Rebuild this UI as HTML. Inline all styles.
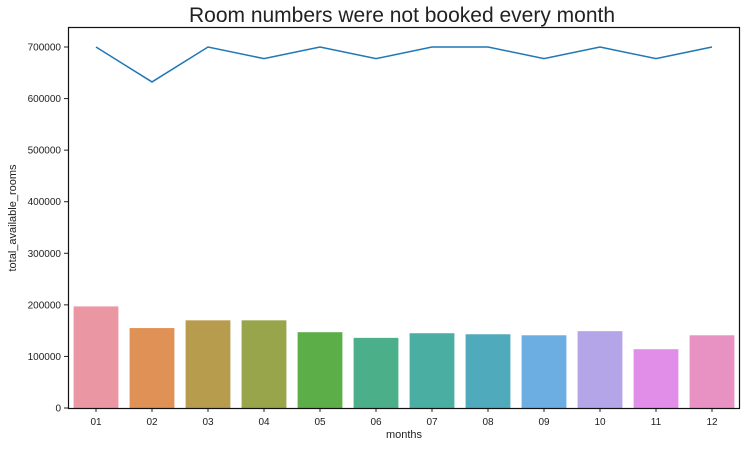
<!DOCTYPE html>
<html><head><meta charset="utf-8"><style>
body{margin:0;background:#fff;}
svg text{font-family:"Liberation Sans","DejaVu Sans",sans-serif;fill:#222;}
</style></head><body>
<svg width="744" height="446" viewBox="0 0 744 446" id="chart">
<text x="402" y="22" font-size="21" text-anchor="middle">Room numbers were not booked every month</text>
<text transform="translate(16,218) rotate(-90)" font-size="11" text-anchor="middle">total_available_rooms</text>
<text x="404" y="438" font-size="11" text-anchor="middle">months</text>
<g id="bars"></g><g id="line"></g><g id="axes"></g>
</svg>
<script>
const months=['01','02','03','04','05','06','07','08','09','10','11','12'];
const bookedRooms=[197000,155000,170000,170000,147000,136000,145000,143000,141000,149000,114000,141000];
const availableRooms=[700000,632258,700000,677419,700000,677419,700000,700000,677419,700000,677419,700000];
const yTicks=[0,100000,200000,300000,400000,500000,600000,700000];
const colors=['#ea96a3','#e09156','#b89c4e','#98a54a','#5cae48','#4bb08a','#4aafa2','#4fabbb','#6cade2','#b3a5e8','#e08ee8','#e891c3'];
const L=68,R=740,T=27,B=408;
const band=(R-L)/months.length;
const x=i=>L+band*(i+0.5);
const y=v=>B-v*(361/700000);
const NS='http://www.w3.org/2000/svg';
function mk(t,a,p){const e=document.createElementNS(NS,t);for(const k in a)e.setAttribute(k,a[k]);p.appendChild(e);return e;}
const gb=document.getElementById('bars'),gl=document.getElementById('line'),ga=document.getElementById('axes');
months.forEach((m,i)=>{
 const r=mk('rect',{x:x(i)-band*0.4,y:y(bookedRooms[i]),width:band*0.8,height:B-y(bookedRooms[i]),fill:colors[i]},gb);
 
 
 const tk=mk('line',{x1:x(i),x2:x(i),y1:B,y2:B+4,stroke:'#222'},ga);
 
 
 const tl=mk('text',{x:x(i),y:B+17,'font-size':10,'text-anchor':'middle'},ga);
 tl.textContent=m;
 
 
});
const pl=mk('polyline',{points:availableRooms.map((v,i)=>x(i)+','+y(v)).join(' '),fill:'none',stroke:'#1f77b4','stroke-width':1.5},gl);


yTicks.forEach(v=>{
 const tk=mk('line',{x1:L-4,x2:L,y1:y(v),y2:y(v),stroke:'#222'},ga);
 
 
 const tl=mk('text',{x:L-7,y:y(v)+3.5,'font-size':10,'text-anchor':'end'},ga);
 tl.textContent=v;
 
 
});
const fr=mk('rect',{x:L+0.5,y:T+0.5,width:R-L-1,height:B-T,fill:'none',stroke:'#111','stroke-width':1.2},ga);


</script>
</body></html>
